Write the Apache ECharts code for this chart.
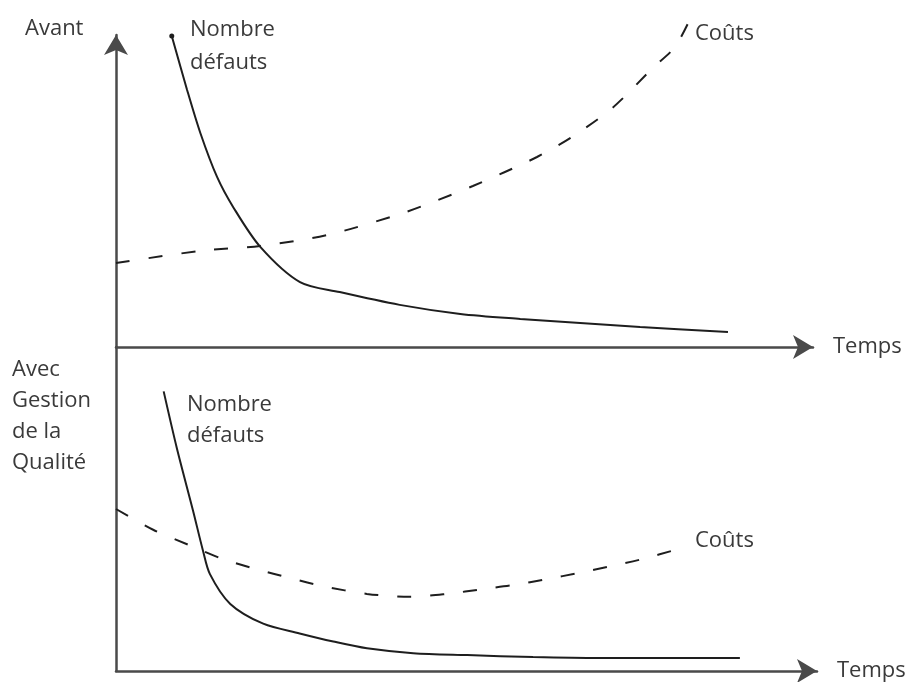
<!DOCTYPE html>
<html>
<head>
<meta charset="utf-8">
<script src="https://cdn.jsdelivr.net/npm/echarts@6/dist/echarts.min.js"></script>
<style>
html, body { margin: 0; padding: 0; background: #fff; }
#chart { width: 912px; height: 682px; }
</style>
</head>
<body>
<div id="chart"></div>
<script>
const avantDefauts = [
  [8.0, 99.7], [10.2, 82.4], [12.1, 68.6], [14.5, 54.5], [16.8, 44.9],
  [20.7, 32.1], [26.4, 20.8], [32.1, 17.6], [40.7, 13.5], [49.4, 10.6],
  [58.0, 9.0], [66.6, 7.7], [75.2, 6.4], [87.8, 4.8]
]
const avantCouts = [
  [0, 26.9], [12.1, 30.8], [20.7, 32.4], [30.3, 35.9], [40.7, 42.6],
  [45.5, 46.5], [51.2, 51.6], [55.8, 56.1], [60.4, 60.9], [65.4, 67.3],
  [71.2, 76.6], [77.0, 89.4], [80.2, 96.2], [82.5, 105.8]
]
const qualiteDefauts = [
  [6.8, 86.3], [8.7, 68.6], [11.0, 49.4], [12.4, 37.2],
  [13.4, 29.9], [16.3, 20.7], [21.0, 14.6], [26.2, 11.6], [31.0, 9.1],
  [35.8, 7.0], [42.4, 5.5], [50.1, 4.9], [59.5, 4.3], [69.0, 4.0], [89.0, 4.0]
]
const qualiteCouts = [
  [0, 50.0], [5.3, 43.6], [10.6, 38.7], [15.3, 34.5], [20.1, 31.4],
  [24.8, 28.7], [29.5, 26.2], [35.8, 23.8], [41.9, 22.9], [47.2, 23.8],
  [52.4, 25.3], [56.6, 26.5], [61.5, 28.4], [65.9, 30.2], [70.5, 32.3],
  [75.0, 34.5], [80.9, 38.1]
]
const axisNameX = 'Temps'
const labelAvant = 'Avant'
const labelQualite = 'Avec\nGestion\nde la\nQualité'
const labelDefauts = 'Nombre\ndéfauts'
const labelCouts = 'Coûts'

const font = '"Open Sans", "DejaVu Sans", sans-serif'
const textColor = '#3a3a3a'
const axisColor = '#4a4a4a'

const chart = echarts.init(document.getElementById('chart'))

function xAxisOf(gridIndex) {
  return {
    gridIndex: gridIndex,
    type: 'value',
    min: 0,
    max: 100,
    name: axisNameX,
    nameLocation: 'end',
    nameGap: 20,
    nameTextStyle: {
      fontFamily: font,
      fontSize: 22,
      color: textColor,
      padding: [0, 0, 18, 0]
    },
    axisLine: {
      show: true,
      onZero: false,
      symbol: ['none', 'arrow'],
      symbolSize: [18, 20],
      lineStyle: { color: axisColor, width: 2.5 }
    },
    axisTick: { show: false },
    axisLabel: { show: false },
    splitLine: { show: false }
  }
}

function yAxisOf(gridIndex, arrow) {
  return {
    gridIndex: gridIndex,
    type: 'value',
    min: 0,
    max: 100,
    axisLine: {
      show: true,
      onZero: false,
      symbol: arrow ? ['none', 'arrow'] : 'none',
      symbolSize: [18, 20],
      lineStyle: { color: axisColor, width: 2.5 }
    },
    axisTick: { show: false },
    axisLabel: { show: false },
    splitLine: { show: false }
  }
}

function curve(data, idx, dashed) {
  return {
    type: 'line',
    xAxisIndex: idx,
    yAxisIndex: idx,
    data: data,
    smooth: 0.3,
    symbol: 'none',
    clip: false,
    silent: true,
    animation: false,
    lineStyle: {
      color: '#1e1e1e',
      width: 2,
      type: dashed ? [14, 19] : 'solid'
    }
  }
}

function text(str, x, y, lineHeight) {
  return {
    type: 'text',
    left: x,
    top: y,
    style: {
      text: str,
      fontFamily: font,
      fontSize: 22,
      lineHeight: lineHeight || 32,
      fill: textColor
    }
  }
}

const firstDot = avantDefauts.map(function (p, i) {
  return i === 0 ? { value: p, symbol: 'circle', symbolSize: 5 } : p
})

const option = {
  backgroundColor: '#fff',
  grid: [
    { left: 116, right: 99, top: 35, bottom: 335 },
    { left: 116, right: 95, top: 347, bottom: 7 }
  ],
  xAxis: [xAxisOf(0), xAxisOf(1)],
  yAxis: [yAxisOf(0, true), yAxisOf(1, false)],
  graphic: [
    text(labelAvant, 25, 13),
    text(labelDefauts, 190, 13, 33),
    text(labelCouts, 695, 18),
    text(labelQualite, 12, 354, 31),
    text(labelDefauts, 187, 389, 31),
    text(labelCouts, 695, 525)
  ],
  series: [
    Object.assign(curve(firstDot, 0, false), { itemStyle: { color: '#1e1e1e' } }),
    curve(avantCouts, 0, true),
    curve(qualiteDefauts, 1, false),
    curve(qualiteCouts, 1, true)
  ]
}
chart.setOption(option)
</script>
</body>
</html>
